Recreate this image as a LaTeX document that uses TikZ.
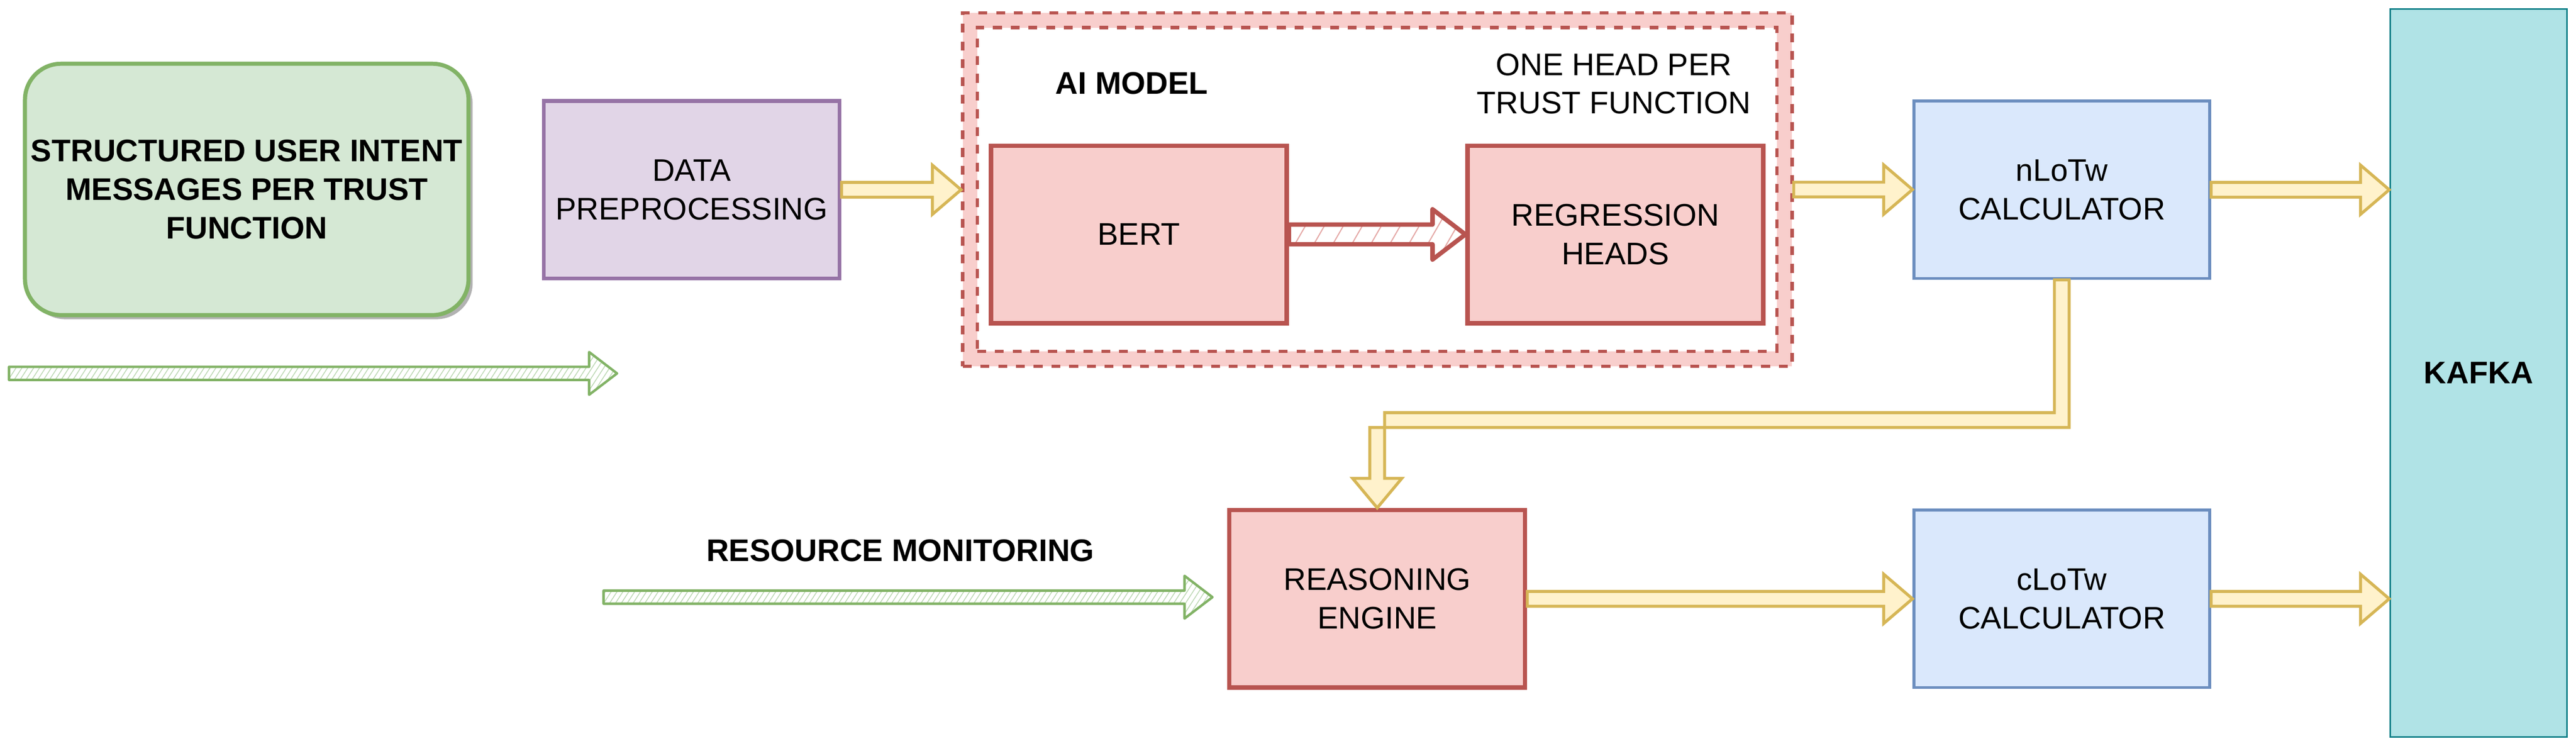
\documentclass[tikz,border=0pt]{standalone}
\usepackage{fontspec}
\setmainfont{Liberation Sans}
\usetikzlibrary{calc,shadows,patterns.meta}
\definecolor{gfill}{HTML}{D5E8D4}
\definecolor{gline}{HTML}{82B366}
\definecolor{pfill}{HTML}{E1D5E7}
\definecolor{pline}{HTML}{9673A6}
\definecolor{rfill}{HTML}{F8CECC}
\definecolor{rline}{HTML}{B85450}
\definecolor{bfill}{HTML}{DAE8FC}
\definecolor{bline}{HTML}{6C8EBF}
\definecolor{yfill}{HTML}{FFF2CC}
\definecolor{yline}{HTML}{D6B656}
\definecolor{tfill}{HTML}{B0E3E6}
\definecolor{tline}{HTML}{0E8088}
\newcommand{\fatharrow}[6]{%
  \draw[#1] let \p1=(#2), \p2=(#3) in
   (\x1,\y1+#4) -- (\x2-#6,\y1+#4) -- (\x2-#6,\y1+#5) -- (\x2,\y1) --
   (\x2-#6,\y1-#5) -- (\x2-#6,\y1-#4) -- (\x1,\y1-#4) -- cycle;}
\begin{document}
\begin{tikzpicture}[x=1pt,y=-1pt,
  every node/.style={font=\fontsize{19}{23.5}\selectfont, align=center, inner sep=0pt, text=black},
  boldtext/.style={font=\fontsize{19}{23.5}\selectfont\bfseries},
  box/.style={draw, minimum width=180pt, minimum height=108pt},
  redbox/.style={box, fill=rfill, draw=rline, line width=2.7pt},
  bluebox/.style={box, fill=bfill, draw=bline, line width=1.8pt},
  dashbox/.style={draw=rline, line width=2pt, dash pattern=on 5.4pt off 5.4pt},
  yarrow/.style={fill=yfill, draw=yline, line width=1.8pt, line join=miter},
  garrow/.style={draw=gline, line width=1.5pt, line join=round,
    pattern={Lines[angle=57,distance=3pt,line width=0.5pt]}, pattern color=gline!30!gfill},
  rarrow/.style={draw=rline, line width=2.7pt, line join=round,
    pattern={Lines[angle=60,distance=10pt,line width=0.7pt]}, pattern color=rline!30!rfill}]

\fill[white] (0,0) rectangle (1568,453.8);
\useasboundingbox (0,0) rectangle (1568,453.8);

% source box
\node[box, fill=gfill, draw=gline, line width=2.5pt, rounded corners=22pt,
  minimum width=270pt, minimum height=153pt, boldtext,
  drop shadow={shadow xshift=2.5pt, shadow yshift=-2.5pt, fill=black, opacity=0.3}]
  (src) at (150.2,115.3) {STRUCTURED USER INTENT\\MESSAGES PER TRUST\\FUNCTION};

% data preprocessing
\node[box, fill=pfill, draw=pline, line width=2.5pt] (dp) at (421,115.5) {DATA\\PREPROCESSING};

% AI model container
\node[dashbox, fill=rfill, minimum width=504.8pt, minimum height=215pt] (ai) at (838.4,115.4) {};
\node[dashbox, fill=white, minimum width=486.8pt, minimum height=197pt] (aiin) at (838.2,115.3) {};
\node[boldtext] (aimodel) at (688.9,50.7) {AI MODEL};
\node (heads) at (982.4,51) {ONE HEAD PER\\TRUST FUNCTION};
\node[redbox] (bert) at (693.2,142.7) {BERT};
\node[redbox] (reg) at (983.3,142.7) {REGRESSION\\HEADS};

% calculators and kafka
\node[bluebox] (nlotw) at (1255,115.5) {nLoTw\\CALCULATOR};
\node[bluebox] (clotw) at (1255,364.5) {cLoTw\\CALCULATOR};
\node[draw=tline, fill=tfill, line width=1pt, minimum width=107.8pt, minimum height=443pt, boldtext]
  (kafka) at (1508.7,227) {KAFKA};

% reasoning engine
\node[redbox] (reason) at (838.3,364.5) {REASONING\\ENGINE};
\node[boldtext] (resmon) at (548,335) {RESOURCE MONITORING};

% free ends of the green arrows and bend point
\coordinate (g1s) at (5.5,227.3);
\coordinate (g1e) at (375.6,227.3);
\coordinate (g2s) at (367.4,363.5);
\coordinate (g2e) at (738,363.5);
\coordinate (elb) at (1255,255.7);

% yellow arrows
\fatharrow{yarrow}{dp.east}{ai.west}{4.5pt}{15pt}{17.5pt}
\fatharrow{yarrow}{ai.east}{nlotw.west}{4.5pt}{15pt}{17.5pt}
\fatharrow{yarrow}{nlotw.east}{kafka.west}{4.5pt}{15pt}{17.5pt}
\fatharrow{yarrow}{reason.east}{clotw.west}{4.5pt}{15pt}{17.5pt}
\fatharrow{yarrow}{clotw.east}{kafka.west}{4.5pt}{15pt}{17.5pt}

% elbow arrow nLoTw -> reasoning engine
\draw[yarrow] let \p1=(nlotw.south), \p2=(reason.north), \p3=(elb) in
  (\x1-4.5pt,\y1) -- (\x1-4.5pt,\y3+4.5pt) -- (\x2+4.5pt,\y3+4.5pt) --
  (\x2+4.5pt,\y2+18pt) -- (\x2+15pt,\y2+18pt) -- (\x2,\y2) --
  (\x2-15pt,\y2+18pt) -- (\x2-4.5pt,\y2+18pt) -- (\x2-4.5pt,\y3-4.5pt) --
  (\x1+4.5pt,\y3-4.5pt) -- (\x1+4.5pt,\y1) -- cycle;

% hatched arrows
\fatharrow{garrow}{g1s}{g1e}{4pt}{13pt}{17pt}
\fatharrow{garrow}{g2s}{g2e}{4pt}{13pt}{17pt}
\fatharrow{rarrow}{bert.east}{reg.west}{6pt}{15.3pt}{20pt}

\end{tikzpicture}
\end{document}
